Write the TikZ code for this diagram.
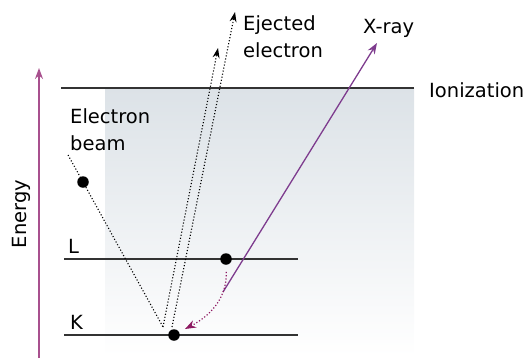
\documentclass[tikz,border=0pt]{standalone}
\usepackage{fontspec}
\setmainfont{DejaVu Sans}
\usepackage{tikz}
\usetikzlibrary{shapes,arrows,arrows.meta,positioning,calc}
\definecolor{energypink}{HTML}{A8508E}
\definecolor{xraypurple}{HTML}{7E3C8E}
\definecolor{dropmagenta}{HTML}{8E1A62}
\definecolor{shadegray}{HTML}{DCE2E7}

\begin{document}
\begin{tikzpicture}[
    x=1pt, y=-1pt,
    txt/.style={anchor=base west, inner sep=0pt, font=\fontsize{19.5}{26.5}\selectfont, align=left},
    level/.style={draw=black!80, line width=1.6pt},
    dot/.style={circle, fill=black, inner sep=0pt, minimum size=11.5pt},
    beam/.style={draw, dotted, line width=1.1pt},
    ejected/.style={draw, dotted, line width=1.1pt, -{Stealth[length=10pt,width=7pt]}},
    xray/.style={draw=xraypurple, line width=1.3pt, -{Stealth[length=11pt,width=8pt]}},
    energy/.style={draw=energypink, line width=1.7pt, -{Stealth[length=11pt,width=8pt]}},
    drop/.style={draw=dropmagenta, dotted, line width=1.2pt, -{Stealth[length=11pt,width=8pt]}}
]
\useasboundingbox (0,0) rectangle (526,362);

% shaded band below ionization
\fill[top color=shadegray, bottom color=white] (105,88) rectangle (414,356);

% energy levels
\coordinate (ionL) at (61,88);
\coordinate (ionR) at (414,88);
\coordinate (lL) at (64,259);
\coordinate (lR) at (298,259);
\coordinate (kL) at (64,335);
\coordinate (kR) at (298,335);
\draw [level] (ionL) -- (ionR);
\draw [level] (lL) -- (lR);
\draw [level] (kL) -- (kR);

\node [txt] (ionlabel) at (429,97) {Ionization};
\node [txt] (llabel) at (68,253) {L};
\node [txt] (klabel) at (70,329) {K};

% energy axis
\coordinate (ebottom) at (39,358);
\coordinate (etop) at (39,68);
\draw [energy] (ebottom) -- (etop);
\node [anchor=base, inner sep=0pt, rotate=90, font=\fontsize{19.5}{26.5}\selectfont] (energylabel) at (26,214) {Energy};

% electrons
\node [dot] (beamdot) at (83,182) {};
\node [dot] (ldot) at (226,259) {};
\node [dot] (kdot) at (174,335) {};

% incoming beam
\coordinate (beamstart) at (68,155);
\coordinate (hit) at (163,327);
\draw [beam] (beamstart) -- (beamdot);
\draw [beam] (beamdot) -- (hit);
\node [txt] (beamlabel) at (70,150) {Electron\\beam};

% ejected electrons
\coordinate (kout) at (172,327);
\coordinate (tipone) at (218,48);
\coordinate (tiptwo) at (235,12);
\draw [ejected] (hit) -- (tipone);
\draw [ejected] (kout) -- (tiptwo);
\node [txt] (ejectlabel) at (243,57) {Ejected\\electron};

% x-ray emission
\coordinate (xstart) at (223,292);
\coordinate (xtip) at (377,43);
\draw [xray] (xstart) -- (xtip);
\node [txt] (xraylabel) at (363,33) {X-ray};

% L to K transition
\coordinate (kvacancy) at (185,329);
\draw [drop, shorten <=7pt] (ldot) .. controls (227,300) and (208,317) .. (kvacancy);

\end{tikzpicture}
\end{document}
